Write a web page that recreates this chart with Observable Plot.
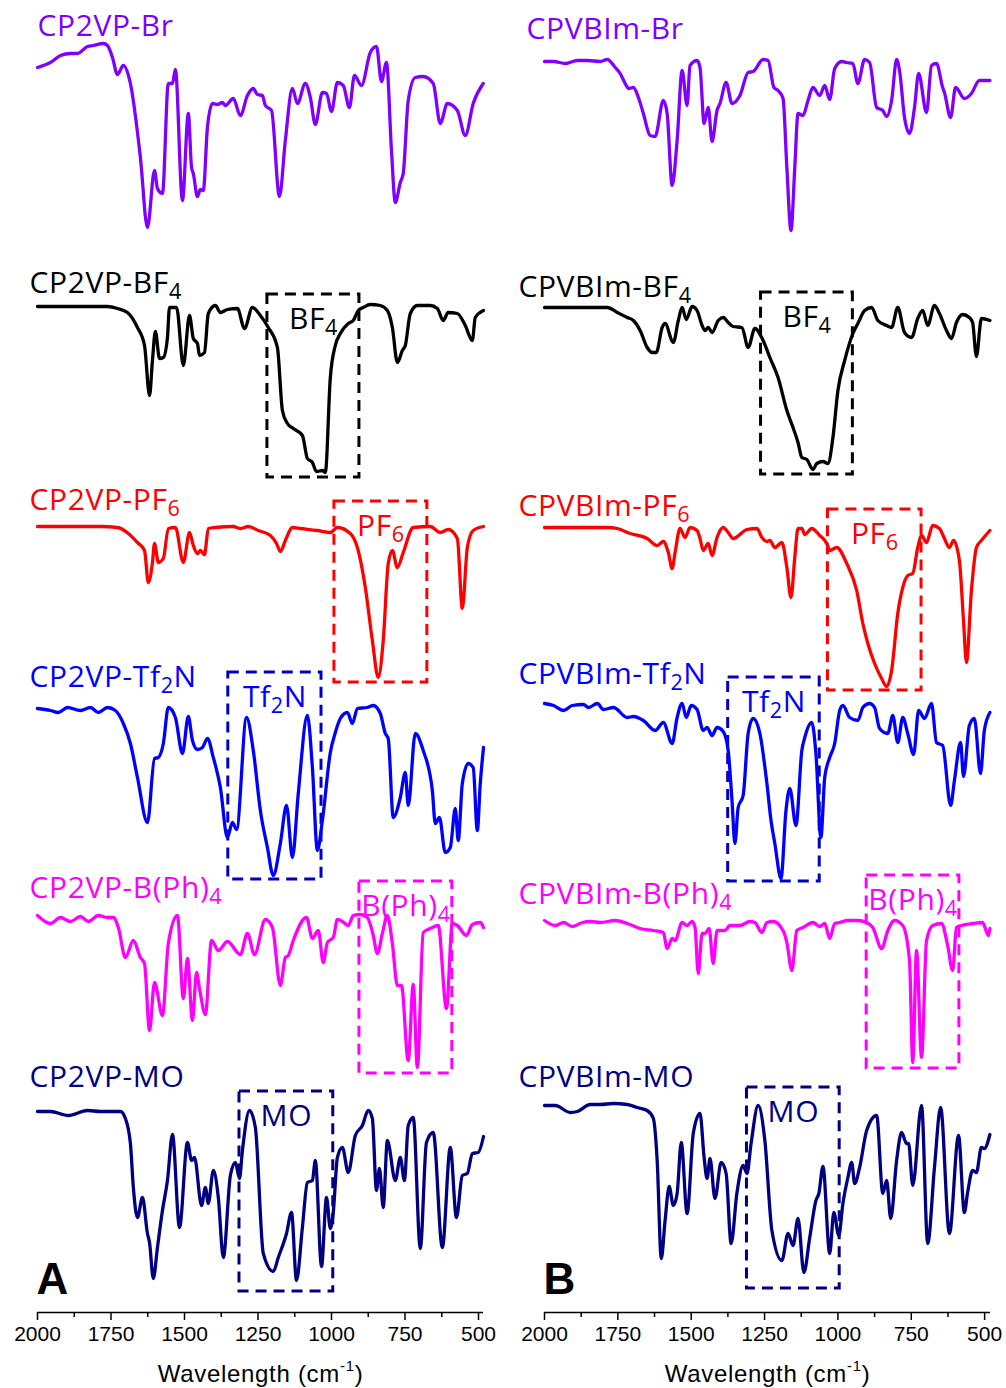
<!DOCTYPE html>
<html><head><meta charset="utf-8">
<script src="https://cdn.jsdelivr.net/npm/d3@7"></script>
<script src="https://cdn.jsdelivr.net/npm/@observablehq/plot@0.6"></script>
<style>
body{margin:0;background:#fff;}
#row{display:flex;width:1006px;}
#row svg{overflow:visible;display:block;}
</style></head><body><div id="row"></div>
<script>
// ---------- data: [wavenumber (cm-1), transmittance change (a.u.)] ----------
const cp2vpBr = [[2000,0],[1980,2],[1956,5],[1922,12],[1888,14],[1864,14],[1830,21],[1810,22],[1776,24],[1762,22],[1745,10],[1728,-7],[1708,2],[1684,-16],[1650,-90],[1626,-160],[1602,-103],[1592,-121],[1575,-126],[1555,-16],[1541,-16],[1531,-2],[1507,-133],[1487,-46],[1476,-100],[1470,-106],[1456,-129],[1446,-122],[1436,-123],[1422,-60],[1405,-36],[1388,-37],[1371,-35],[1361,-38],[1334,-31],[1310,-48],[1286,-28],[1266,-21],[1252,-27],[1235,-28],[1225,-38],[1204,-43],[1177,-129],[1157,-73],[1133,-21],[1116,-36],[1089,-16],[1072,-30],[1055,-57],[1031,-25],[1017,-26],[1000,-44],[980,-15],[960,-18],[939,-40],[922,-8],[898,-18],[868,15],[847,21],[830,-14],[813,5],[796,-83],[783,-135],[766,-115],[756,-106],[739,-33],[715,-10],[688,-9],[654,-16],[630,-56],[606,-36],[572,-43],[545,-68],[518,-36],[484,-16]];
const cp2vpBF4 = [[2000,0],[1898,0],[1762,0],[1728,-2],[1694,-6],[1660,-21],[1636,-39],[1619,-89],[1609,-54],[1599,-25],[1585,-52],[1572,-51],[1558,-31],[1551,-1],[1527,-1],[1504,-59],[1483,-9],[1470,-32],[1456,-37],[1449,-49],[1432,-46],[1419,-7],[1395,1],[1378,-6],[1354,-3],[1320,-2],[1296,-22],[1269,-1],[1242,-9],[1215,-21],[1184,-41],[1167,-104],[1150,-117],[1130,-122],[1099,-129],[1082,-152],[1065,-156],[1051,-165],[1031,-164],[1021,-166],[1004,-71],[987,-39],[970,-27],[943,-17],[926,-14],[909,-4],[892,-1],[868,2],[834,1],[810,-4],[793,-21],[776,-56],[759,-44],[749,-39],[732,-7],[708,1],[664,1],[640,-2],[620,-14],[603,-6],[572,-7],[545,-19],[521,-34],[511,-11],[483,-4]];
const cp2vpPF6 = [[2000,0],[1786,0],[1728,-1],[1691,-7],[1660,-16],[1636,-24],[1623,-56],[1609,-36],[1602,-17],[1589,-36],[1572,-32],[1555,-2],[1531,-1],[1504,-36],[1483,-6],[1470,-19],[1456,-27],[1446,-24],[1432,-28],[1419,-2],[1395,-1],[1334,0],[1310,-2],[1283,0],[1249,-4],[1208,-9],[1187,-17],[1174,-25],[1157,-14],[1133,-1],[1106,-2],[1048,-4],[1004,-6],[980,-1],[936,-7],[912,-21],[885,-61],[861,-114],[841,-151],[824,-114],[807,-37],[793,-24],[776,-41],[756,-26],[722,-1],[664,0],[630,-6],[603,-3],[572,-12],[555,-82],[538,-21],[518,-4],[483,0]];
const cp2vpTf2N = [[2000,-1],[1956,-3],[1929,-5],[1898,0],[1854,-3],[1820,0],[1793,-5],[1762,0],[1735,-3],[1708,-16],[1684,-36],[1660,-70],[1626,-115],[1602,-51],[1589,-50],[1572,-36],[1555,0],[1531,-10],[1507,-46],[1487,-9],[1473,-33],[1456,-42],[1439,-40],[1422,-31],[1402,-50],[1378,-80],[1354,-130],[1337,-115],[1323,-122],[1289,-10],[1266,-43],[1242,-103],[1218,-140],[1198,-168],[1174,-136],[1153,-98],[1133,-150],[1113,-86],[1082,-8],[1065,-60],[1048,-143],[1031,-113],[1004,-45],[987,-25],[970,-11],[946,-5],[929,-16],[912,-1],[878,0],[858,2],[834,-6],[817,-26],[807,-31],[790,-110],[766,-90],[749,-65],[739,-98],[715,-26],[688,-43],[657,-83],[647,-116],[633,-110],[613,-145],[596,-140],[579,-101],[569,-133],[555,-76],[535,-56],[518,-60],[504,-123],[494,-76],[483,-40]];
const cp2vpBPh4 = [[2000,0],[1956,-8],[1922,-2],[1888,-6],[1854,-1],[1827,-6],[1793,0],[1762,-2],[1742,-2],[1725,-12],[1701,-42],[1674,-25],[1650,-42],[1636,-48],[1619,-115],[1602,-67],[1575,-100],[1555,-28],[1524,0],[1504,-83],[1490,-43],[1473,-105],[1459,-57],[1449,-73],[1429,-99],[1408,-25],[1385,-35],[1354,-26],[1310,-39],[1286,-18],[1262,-39],[1225,-4],[1201,-12],[1174,-70],[1157,-42],[1147,-40],[1130,-25],[1085,-2],[1065,-23],[1045,-15],[1028,-47],[1014,-27],[994,-22],[980,-4],[963,-6],[943,-10],[926,0],[902,1],[878,-2],[858,-20],[844,-38],[827,-18],[810,0],[793,-28],[776,-70],[762,-70],[739,-145],[722,-69],[708,-152],[688,-17],[664,-13],[637,-10],[609,-93],[589,-8],[572,-10],[541,-20],[521,-9],[494,-7],[483,-12]];
const cp2vpMO = [[2000,0],[1956,0],[1895,-4],[1830,1],[1786,0],[1718,0],[1701,-7],[1684,-32],[1674,-76],[1660,-106],[1643,-86],[1626,-122],[1619,-131],[1606,-167],[1592,-136],[1575,-99],[1558,-69],[1541,-23],[1517,-116],[1490,-31],[1476,-49],[1466,-46],[1442,-94],[1429,-76],[1419,-92],[1402,-59],[1385,-86],[1368,-146],[1344,-64],[1327,-51],[1313,-67],[1303,-39],[1279,1],[1259,-16],[1232,-142],[1198,-160],[1181,-146],[1153,-122],[1136,-101],[1119,-169],[1099,-116],[1082,-71],[1065,-69],[1055,-49],[1034,-155],[1017,-86],[1004,-117],[994,-101],[980,-46],[963,-36],[943,-61],[919,-24],[895,-14],[875,1],[861,-7],[847,-79],[837,-57],[824,-96],[810,-29],[783,-69],[766,-46],[752,-69],[739,-14],[722,-6],[698,-137],[677,-31],[654,-21],[623,-136],[596,-36],[575,-106],[555,-64],[538,-62],[521,-42],[501,-41],[483,-25]];

const cpvbimBr = [[2000,0],[1969,0],[1929,-2],[1888,1],[1854,1],[1810,0],[1786,2],[1759,-6],[1742,-12],[1725,-22],[1714,-27],[1697,-26],[1680,-36],[1663,-52],[1640,-74],[1623,-75],[1595,-39],[1582,-52],[1565,-124],[1548,-79],[1531,-9],[1514,-44],[1504,-4],[1480,1],[1470,-6],[1456,-62],[1442,-46],[1429,-80],[1412,-49],[1402,-42],[1381,-21],[1361,-42],[1334,-34],[1306,-11],[1289,-10],[1255,2],[1238,1],[1218,-26],[1204,-29],[1187,-37],[1174,-106],[1160,-169],[1147,-106],[1136,-52],[1119,-54],[1102,-39],[1085,-26],[1062,-34],[1045,-24],[1028,-38],[1011,-7],[987,0],[970,-1],[949,-2],[932,-22],[909,2],[892,-1],[868,-46],[847,-49],[834,-55],[817,-39],[800,2],[790,-9],[773,-56],[756,-72],[739,-46],[725,-12],[698,-51],[681,-4],[664,-2],[643,-26],[637,-31],[616,-56],[599,-26],[569,-37],[545,-32],[518,-19],[482,-19]];
const cpvbimBF4 = [[2000,0],[1922,0],[1786,0],[1752,-5],[1718,-10],[1697,-13],[1674,-23],[1650,-40],[1633,-45],[1619,-45],[1599,-20],[1589,-16],[1561,-35],[1544,-13],[1531,0],[1517,-12],[1497,1],[1480,-3],[1463,-18],[1453,-23],[1442,-20],[1429,-25],[1408,-13],[1391,-10],[1374,-15],[1357,-19],[1327,-20],[1306,-40],[1283,-21],[1255,-33],[1232,-50],[1204,-70],[1174,-103],[1153,-120],[1136,-135],[1123,-150],[1106,-152],[1085,-162],[1072,-156],[1051,-154],[1034,-156],[1017,-130],[1000,-83],[977,-53],[949,-26],[932,-16],[909,-3],[885,0],[864,-13],[834,-18],[817,-20],[796,0],[773,-25],[749,-30],[728,-11],[711,-3],[694,-18],[671,2],[654,-6],[630,-23],[613,-31],[596,-15],[575,-7],[552,-10],[541,-15],[528,-49],[511,-11],[482,-13]];
const cpvbimPF6 = [[2000,0],[1786,0],[1752,-1],[1708,-6],[1650,-11],[1616,-18],[1595,-14],[1578,-25],[1565,-41],[1555,-25],[1538,-1],[1521,-10],[1504,0],[1480,-3],[1470,-11],[1459,-23],[1442,-16],[1429,-28],[1412,-10],[1391,0],[1374,-5],[1357,-11],[1310,-2],[1276,-1],[1259,-10],[1242,-14],[1232,-13],[1215,-20],[1191,-15],[1174,-40],[1160,-70],[1147,-30],[1136,-1],[1123,-1],[1113,-7],[1089,-1],[1062,-8],[1038,-16],[1028,-23],[1004,-20],[970,-36],[936,-63],[915,-96],[898,-116],[875,-136],[851,-151],[834,-159],[817,-143],[796,-86],[779,-60],[762,-48],[745,-46],[728,-20],[715,-8],[698,-15],[677,2],[654,-1],[637,-11],[620,-20],[606,-13],[586,-33],[572,-93],[562,-135],[545,-63],[528,-20],[511,-13],[482,-3]];
const cpvbimTf2N = [[2000,0],[1969,-2],[1935,-7],[1905,-2],[1867,-1],[1850,-4],[1820,0],[1799,-6],[1765,-4],[1718,-14],[1697,-13],[1663,-17],[1623,-27],[1595,-19],[1565,-40],[1548,-14],[1531,0],[1517,-14],[1500,-2],[1480,-6],[1459,-27],[1446,-24],[1429,-32],[1412,-24],[1391,-28],[1374,-47],[1361,-97],[1351,-140],[1340,-104],[1323,-92],[1306,-30],[1289,-15],[1266,-30],[1242,-80],[1228,-117],[1215,-140],[1194,-175],[1177,-107],[1164,-85],[1143,-122],[1123,-47],[1113,-34],[1089,-19],[1075,-50],[1058,-134],[1045,-74],[1028,-54],[1011,-40],[994,-7],[983,-2],[960,-14],[932,-17],[915,-4],[892,0],[875,-4],[858,-25],[830,-30],[813,-12],[796,-39],[779,-14],[762,-30],[742,-51],[725,-7],[705,-15],[681,0],[664,-39],[643,-42],[616,-102],[603,-77],[582,-39],[572,-73],[552,-22],[535,-15],[514,-70],[501,-27],[482,-9]];
const cpvbimBPh4 = [[2000,0],[1963,-5],[1935,-2],[1905,-6],[1871,-2],[1844,-1],[1810,-2],[1759,0],[1718,-3],[1674,-8],[1629,-10],[1595,-12],[1582,-28],[1565,-18],[1555,-20],[1531,-2],[1514,-5],[1497,-1],[1487,-7],[1476,-53],[1463,-13],[1453,-13],[1439,-8],[1425,-43],[1412,-10],[1385,-10],[1368,-5],[1334,-5],[1300,-1],[1283,-2],[1259,-12],[1242,-2],[1221,-1],[1187,-10],[1174,-22],[1157,-50],[1140,-10],[1119,-7],[1085,-2],[1062,-6],[1045,-3],[1028,-18],[1011,-3],[994,-2],[966,0],[932,0],[902,-2],[881,-7],[851,-28],[830,-10],[807,0],[779,-5],[756,-40],[745,-142],[732,-30],[715,-137],[698,-20],[677,-5],[647,-3],[626,-25],[609,-50],[596,-7],[579,-5],[541,-3],[507,-2],[487,-15],[482,-8]];
const cpvbimMO = [[2000,0],[1963,0],[1912,-7],[1888,-6],[1844,1],[1810,1],[1765,2],[1718,1],[1684,-2],[1650,-5],[1629,-13],[1616,-55],[1602,-153],[1589,-115],[1575,-81],[1561,-100],[1548,-88],[1534,-37],[1514,-108],[1493,-28],[1470,-8],[1456,-52],[1446,-73],[1436,-53],[1419,-93],[1398,-57],[1381,-68],[1364,-138],[1344,-87],[1323,-60],[1310,-68],[1296,-38],[1272,0],[1249,-35],[1225,-125],[1191,-155],[1170,-128],[1153,-140],[1136,-113],[1116,-167],[1096,-132],[1075,-95],[1065,-88],[1051,-61],[1028,-148],[1014,-107],[997,-130],[983,-98],[966,-72],[953,-57],[943,-78],[926,-62],[902,-25],[868,-10],[847,-88],[834,-75],[820,-113],[800,-55],[783,-27],[766,-38],[759,-38],[745,-80],[715,0],[694,-138],[671,-62],[650,-2],[620,-128],[589,-30],[569,-107],[558,-87],[541,-65],[528,-67],[511,-42],[501,-43],[482,-29]];

// series names (sub/superscripts written as _{..} / ^{..})
const namesA = ["CP2VP-Br","CP2VP-BF_{4}","CP2VP-PF_{6}","CP2VP-Tf_{2}N","CP2VP-B(Ph)_{4}","CP2VP-MO"];
const namesB = ["CPVBIm-Br","CPVBIm-BF_{4}","CPVBIm-PF_{6}","CPVBIm-Tf_{2}N","CPVBIm-B(Ph)_{4}","CPVBIm-MO"];
const seriesA = [cp2vpBr, cp2vpBF4, cp2vpPF6, cp2vpTf2N, cp2vpBPh4, cp2vpMO];
const seriesB = [cpvbimBr, cpvbimBF4, cpvbimPF6, cpvbimTf2N, cpvbimBPh4, cpvbimMO];
// vertical stacking offsets (a.u.)
const offsetsA = [1245, 1006, 786, 605, 397, 201];
const offsetsB = [1251, 1005, 785, 609, 392, 207];
// label anchor (wavenumber) and height above each offset
const labelWnA = [2000, 2027, 2027, 2027, 2027, 2027];
const labelWnB = [2061, 2089, 2089, 2089, 2089, 2089];
const labelRiseA = [32, 14, 17, 21, 18, 25];
const labelRiseB = [23, 11, 12, 20, 17, 19];

// anion regions: [series index, high wn, low wn, top, bottom (relative to offset)]
const anionNames = ["BF_{4}","PF_{6}","Tf_{2}N","B(Ph)_{4}","MO"];
const regionsA = [[1,1218,905,12,-171],[2,990,674,25,-156],[3,1351,1034,35,-172],[4,905,589,34,-158],[5,1313,994,20,-180]];
const regionsB = [[1,1262,949,15,-167],[2,1034,715,18,-163],[3,1374,1062,26,-178],[4,902,586,45,-148],[5,1310,994,18,-183]];

const majorTicks = [2000,1750,1500,1250,1000,750,500];
const minorTicks = [1875,1625,1375,1125,875,625];

const colors = ["#8000ff","#000000","#ff0000","#0000ff","#ff00ff","#000080"];
const boxColors = ["#000000","#ff0000","#0000c0","#ff00ff","#000080"];

const LABEL_FONT = "'Open Sans', 'Noto Sans', sans-serif";
const AXIS_FONT = "'Liberation Sans', Arial, sans-serif";

function panel({letter, series, names, offsets, labelWn, labelRise, regions, marginLeft, marginRight, xEnd}) {
  const marks = [];
  regions.forEach(([si, hi, lo, top, bot], k) => {
    marks.push(Plot.rect([0], {x1: () => hi, x2: () => lo, y1: () => offsets[si] + top, y2: () => offsets[si] + bot,
      fill: "none", stroke: boxColors[k], strokeWidth: 3, strokeDasharray: "11,7"}));
  });
  series.forEach((pts, i) => {
    marks.push(Plot.line(pts, {x: d => d[0], y: d => offsets[i] + d[1], stroke: colors[i], strokeWidth: 3.3, curve: "monotone-x"}));
    marks.push(Plot.text([names[i]], {x: () => labelWn[i], y: () => offsets[i] + labelRise[i], text: d => d,
      fill: colors[i], fontSize: 30, fontFamily: LABEL_FONT, textAnchor: "start", lineAnchor: "bottom"}));
  });
  regions.forEach(([si, hi, lo, top], k) => {
    marks.push(Plot.text([anionNames[k]], {x: () => (hi + lo) / 2, y: () => offsets[si] + top, dy: 34, text: d => d,
      fill: colors[si], fontSize: 30, fontFamily: LABEL_FONT, textAnchor: "middle", lineAnchor: "bottom"}));
  });
  marks.push(Plot.ruleY([0], {stroke: "black", strokeWidth: 1.6}));
  marks.push(Plot.axisX({ticks: majorTicks, tickSize: 8, tickPadding: 6, tickFormat: d => String(d), fontSize: 21, label: null, strokeWidth: 1.5, fill: "black", stroke: "black"}));
  marks.push(Plot.axisX({ticks: minorTicks, tickSize: 5, text: null, label: null, strokeWidth: 1.5, stroke: "black"}));
  marks.push(Plot.text(["Wavelength (cm^{-1})"], {frameAnchor: "bottom", dy: 69, text: d => d, fontSize: 24, fontFamily: AXIS_FONT, fill: "black", lineAnchor: "bottom"}));
  marks.push(Plot.text([letter], {frameAnchor: "bottom-left", dy: -19, dx: -1, text: d => d, fontSize: 44, fontWeight: "bold", fontFamily: AXIS_FONT, fill: "black", textAnchor: "start", lineAnchor: "bottom"}));
  return Plot.plot({
    width: 503, height: 1388,
    marginLeft, marginRight, marginTop: 0, marginBottom: 76,
    x: {domain: [2000, xEnd], axis: null},
    y: {domain: [0, 1312], axis: null},
    style: {fontFamily: AXIS_FONT, color: "black", background: "white", overflow: "visible"},
    marks
  });
}

function richText(svg) {
  svg.querySelectorAll("text").forEach(t => {
    const s = t.textContent;
    if (!/[_^]\{/.test(s)) return;
    const parts = []; const re = /([_^])\{([^}]*)\}/g; let last = 0, m;
    while ((m = re.exec(s))) {
      if (m.index > last) parts.push({t: s.slice(last, m.index)});
      parts.push({t: m[2], k: m[1]}); last = re.lastIndex;
    }
    if (last < s.length) parts.push({t: s.slice(last)});
    while (t.firstChild) t.removeChild(t.firstChild);
    let shift = 0;
    parts.forEach(p => {
      const ts = document.createElementNS("http://www.w3.org/2000/svg", "tspan");
      if (p.k) {
        const fs = p.k === "_" ? 0.72 : 0.62;
        const target = p.k === "_" ? 0.2 : -0.42;
        ts.setAttribute("font-size", (fs * 100) + "%");
        ts.setAttribute("dy", ((target - shift) / fs).toFixed(3) + "em");
        shift = target;
      } else if (shift !== 0) {
        ts.setAttribute("dy", (-shift).toFixed(3) + "em");
        shift = 0;
      }
      ts.textContent = p.t;
      t.appendChild(ts);
    });
  });
}

function spaceLabels(svg) {
  svg.querySelectorAll("text").forEach(t => {
    const fs = t.closest("[font-size]");
    const size = fs ? parseFloat(fs.getAttribute("font-size")) : 0;
    if (size === 30) t.setAttribute("letter-spacing", "0.6");
    if (size === 24) t.setAttribute("letter-spacing", "0.7");
  });
}

const row = document.getElementById("row");
const A = panel({letter: "A", series: seriesA, names: namesA, offsets: offsetsA, labelWn: labelWnA, labelRise: labelRiseA, regions: regionsA, marginLeft: 37, marginRight: 20, xEnd: 483});
const B = panel({letter: "B", series: seriesB, names: namesB, offsets: offsetsB, labelWn: labelWnB, labelRise: labelRiseB, regions: regionsB, marginLeft: 41, marginRight: 16, xEnd: 480});
row.appendChild(A); row.appendChild(B);
richText(A); richText(B);
spaceLabels(A); spaceLabels(B);
</script></body></html>
